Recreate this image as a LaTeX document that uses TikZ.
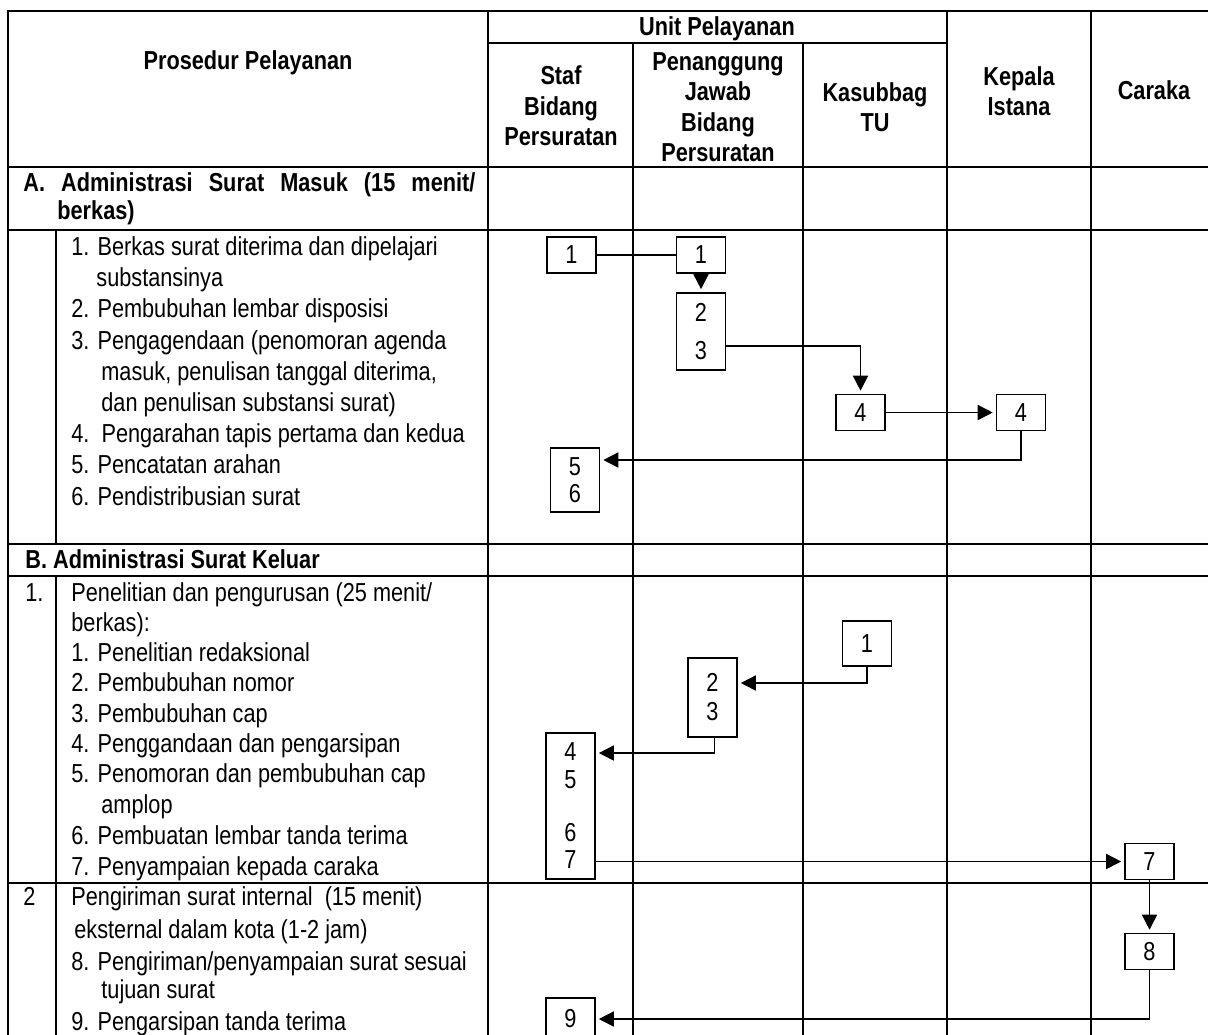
\documentclass[tikz,border=0pt]{standalone}
\usepackage{fontspec}
\setmainfont{Liberation Sans}[FakeStretch=0.835]
\usetikzlibrary{arrows.meta}
\begin{document}
\begin{tikzpicture}[x=0.5pt, y=-0.5pt,
    rule/.style={line width=1.1pt, line cap=rect},
    box/.style={draw, line width=0.8pt, minimum width=24.5pt, minimum height=18pt, inner sep=0pt, align=center, font=\fontsize{13}{13.75}\selectfont},
    link/.style={line width=0.8pt},
    flow/.style={line width=0.8pt, -{Triangle[length=7.5pt, width=7.5pt]}, shorten >=1.5pt},
    head/.style={align=center, inner sep=0pt, font=\bfseries\fontsize{13}{15.25}\selectfont},
    item/.style={anchor=base west, inner sep=0pt, font=\fontsize{13}{15}\selectfont},
    title/.style={item, font=\bfseries\fontsize{13}{15}\selectfont}]
  \useasboundingbox (0,0) rectangle (1208,1034);
  \clip (0,0) rectangle (1208,1034);

  % table rules
  \foreach \y in {11,167,230,544,576,883} {\draw[rule] (8,\y) -- (1230,\y);}
  \draw[rule] (488,43) -- (947,43);
  \foreach \x in {8,488,947,1091} {\draw[rule] (\x,11) -- (\x,1050);}
  \foreach \x in {633,803} {\draw[rule] (\x,43) -- (\x,1050);}
  \draw[rule] (56,230) -- (56,544) (56,576) -- (56,1050);

  % header
  \node[head] (proc) at (248,63) {Prosedur Pelayanan};
  \node[head] (unit) at (717,29) {Unit Pelayanan};
  \node[head] (staf) at (561,106) {Staf\\Bidang\\Persuratan};
  \node[head] (pj) at (718,107) {Penanggung\\Jawab\\Bidang\\Persuratan};
  \node[head] (kasub) at (875,107) {Kasubbag\\TU};
  \node[head] (kepala) at (1019,91) {Kepala\\Istana};
  \node[head] (caraka) at (1154,90) {Caraka};

  % A. surat masuk
  \node[title] (secA) at (23,191) {\makebox[226pt][s]{A.\ Administrasi Surat Masuk (15 menit/}};
  \node[title] (secAb) at (57,219) {berkas)};
  \foreach \x/\y/\t [count=\i] in {71/255/{1. Berkas surat diterima dan dipelajari}, 96/286/substansinya,
      71/317/{2. Pembubuhan lembar disposisi}, 71/349/{3. Pengagendaan (penomoran agenda},
      101/380/{masuk, penulisan tanggal diterima,}, 101/411/{dan penulisan substansi surat)},
      71/442/{4.\ \ Pengarahan tapis pertama dan kedua}, 71/473/{5. Pencatatan arahan},
      71/505/{6. Pendistribusian surat}}
    {\node[item] (itemA\i) at (\x,\y) {\t};}

  % B. surat keluar
  \node[title] (secB) at (25,568) {B. Administrasi Surat Keluar};
  \node[item] (numB1) at (25,601) {1.};
  \node[item] (numB2) at (23,905) {2};
  \foreach \x/\y/\t [count=\i] in {71/601/{Penelitian dan pengurusan (25 menit/}, 71/631/{berkas):},
      71/661/{1. Penelitian redaksional}, 71/691/{2. Pembubuhan nomor}, 71/722/{3. Pembubuhan cap},
      71/752/{4. Penggandaan dan pengarsipan}, 71/782/{5. Penomoran dan pembubuhan cap},
      101/813/amplop, 71/844/{6. Pembuatan lembar tanda terima}, 71/875/{7. Penyampaian kepada caraka},
      71/905/{Pengiriman surat internal\ \ (15 menit)}, 74/938/{eksternal dalam kota (1-2 jam)},
      71/970/{8. Pengiriman/penyampaian surat sesuai}, 101/998/{tujuan surat},
      71/1030/{9. Pengarsipan tanda terima}}
    {\node[item] (itemB\i) at (\x,\y) {\t};}

  % steps A
  \node[box] (a1s) at (571.5,255) {1};
  \node[box] (a1p) at (701,255) {1};
  \node[box, minimum height=38.5pt, font=\fontsize{13}{19}\selectfont] (a23) at (701,331.5) {2\\3};
  \node[box] (a4k) at (860.5,412.5) {4};
  \node[box] (a4i) at (1021,412.5) {4};
  \node[box, minimum height=32pt] (a56) at (575,480) {5\\6};

  \draw[link] (a1s) -- (a1p);
  \draw[flow] (a1p) -- (a23);
  \draw[flow] ([yshift=-7.25pt]a23.east) -| (a4k);
  \draw[flow] (a4k) -- (a4i);
  \draw[flow] (a4i) |- ([yshift=10pt]a56.east);

  % steps B
  \node[box, minimum height=22.5pt] (b1k) at (867,643.5) {1};
  \node[box, minimum height=39.5pt, font=\fontsize{13}{14.5}\selectfont] (b23) at (712.5,697.5) {2\\3};
  \node[box, minimum height=73pt] (b47) at (570.5,806) {4\\5\\[12.75pt]6\\7};
  \node[box] (b7c) at (1149.5,861.5) {7};
  \node[box] (b8c) at (1149.5,951.5) {8};
  \node[box, minimum height=21pt] (b9s) at (570.5,1019) {9};

  \draw[flow] (b1k) |- ([yshift=7.25pt]b23.east);
  \draw[flow] ([xshift=1pt]b23.south) |- ([yshift=26.5pt]b47.east);
  \draw[flow] (b47.east |- b7c) -- (b7c);
  \draw[flow] (b7c) -- (b8c);
  \draw[flow] (b8c) |- (b9s);
\end{tikzpicture}
\end{document}
